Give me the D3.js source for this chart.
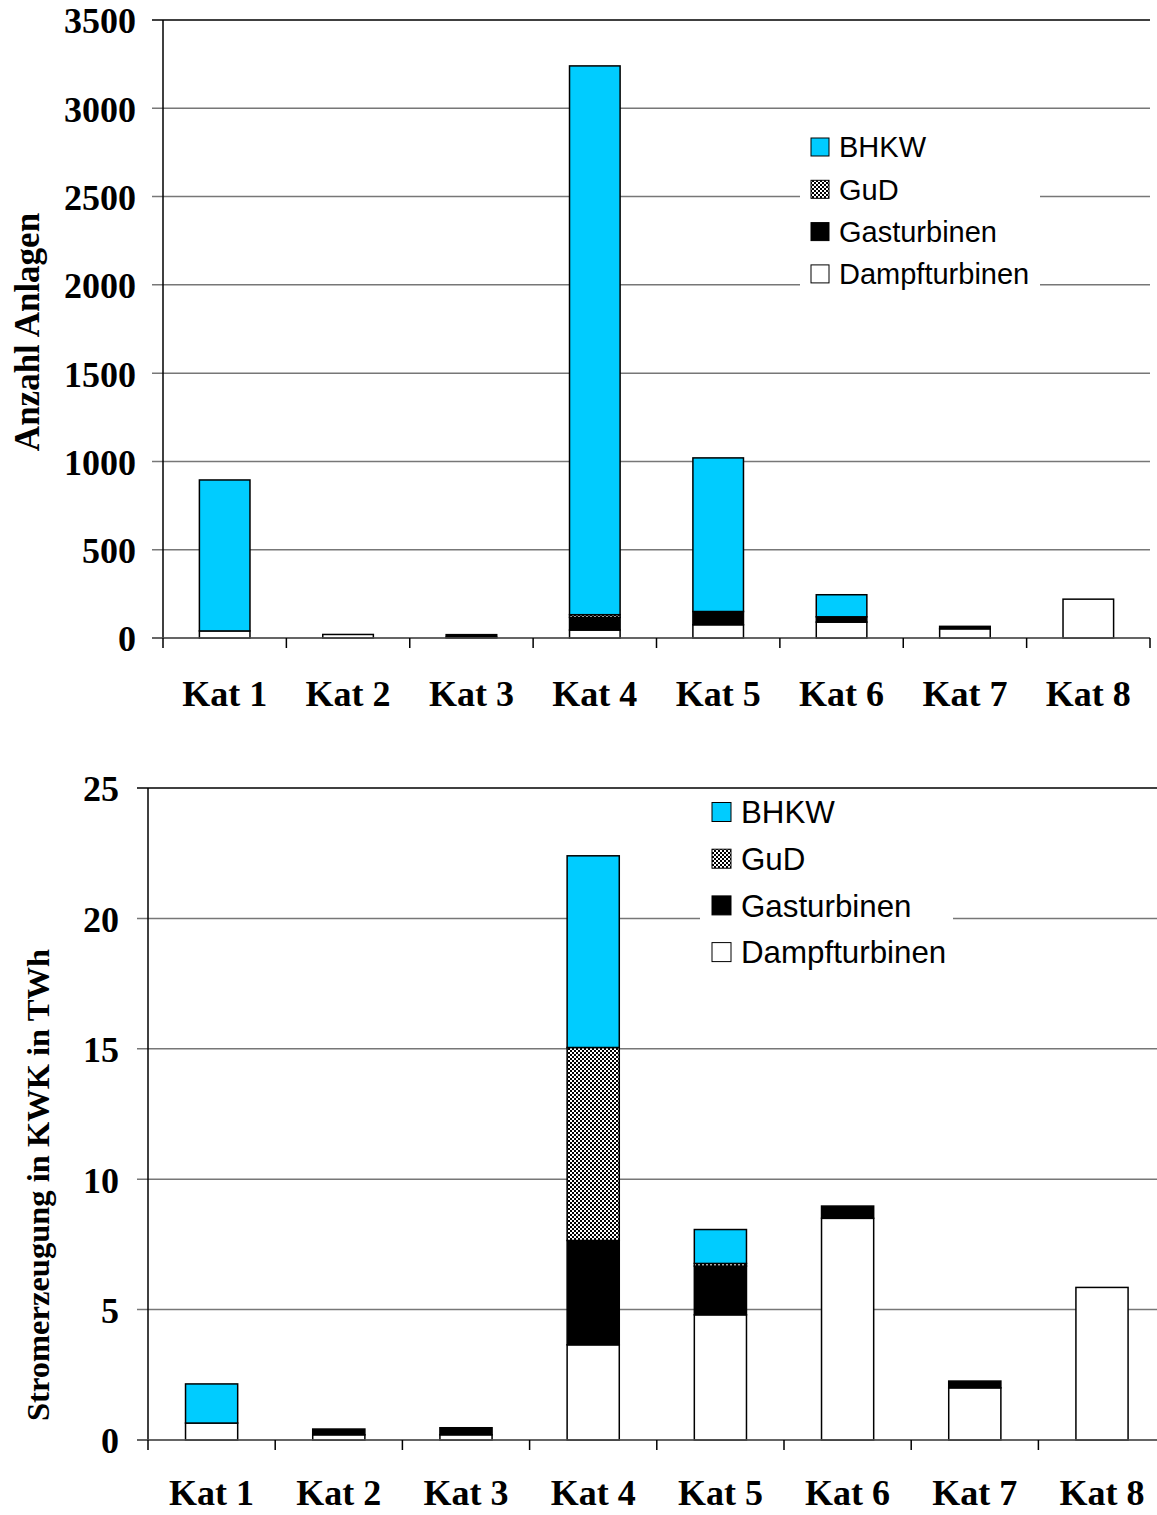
<!DOCTYPE html>
<html><head><meta charset="utf-8">
<script src="https://cdn.jsdelivr.net/npm/d3@7"></script>
<style>body{margin:0;background:#fff}svg{display:block}</style>
</head><body>
<script>
// ---- data ----
const categories = ["Kat 1","Kat 2","Kat 3","Kat 4","Kat 5","Kat 6","Kat 7","Kat 8"];
const seriesKeys = ["Dampfturbinen","Gasturbinen","GuD","BHKW"]; // stack order bottom->top
const legendOrder = ["BHKW","GuD","Gasturbinen","Dampfturbinen"];

const anzahlDampf = [40, 20, 4, 45, 75, 90, 52, 220];
const anzahlGas   = [0, 0, 15, 72, 75, 30, 14, 0];
const anzahlGuD   = [0, 0, 0, 15, 0, 0, 0, 0];
const anzahlBHKW  = [855, 0, 0, 3108, 870, 125, 0, 0];
const anzahlTicks = [0,500,1000,1500,2000,2500,3000,3500];

const stromDampf = [0.65, 0.2, 0.2, 3.65, 4.8, 8.5, 2.0, 5.85];
const stromGas   = [0, 0.22, 0.27, 4.0, 1.87, 0.47, 0.26, 0];
const stromGuD   = [0, 0, 0, 7.4, 0.1, 0, 0, 0];
const stromBHKW  = [1.5, 0, 0, 7.35, 1.3, 0, 0, 0];
const stromTicks = [0,5,10,15,20,25];

function rows(d, g, gu, b){
  return categories.map((c,i)=>({cat:c, Dampfturbinen:d[i], Gasturbinen:g[i], GuD:gu[i], BHKW:b[i]}));
}

const W = 1157, H = 1515;
const svg = d3.select("body").append("svg").attr("width",W).attr("height",H);
const defs = svg.append("defs");
const pat = defs.append("pattern").attr("id","checker").attr("patternUnits","userSpaceOnUse")
  .attr("width",4).attr("height",4);
pat.append("rect").attr("width",4).attr("height",4).attr("fill","#fff");
pat.append("rect").attr("width",2).attr("height",2).attr("fill","#000");
pat.append("rect").attr("x",2).attr("y",2).attr("width",2).attr("height",2).attr("fill","#000");

const fills = {BHKW:"#00CCFF", GuD:"url(#checker)", Gasturbinen:"#000", Dampfturbinen:"#fff"};
const serif = "'Liberation Serif','Times New Roman',serif";
const sans = "'Liberation Sans',Arial,sans-serif";

function chart(cfg){
  const g = svg.append("g");
  const x = d3.scaleBand().domain(categories).range([cfg.left, cfg.right]).padding(0);
  const y = d3.scaleLinear().domain([0, cfg.max]).range([cfg.bottom, cfg.top]);
  // gridlines
  g.selectAll(".grid").data(cfg.ticks).join("line")
    .attr("x1", cfg.left-11).attr("x2", cfg.right)
    .attr("y1", d=>y(d)).attr("y2", d=>y(d))
    .attr("stroke", d=> d===cfg.max ? "#000" : "#777").attr("stroke-width",1.5);
  // legend background (covers gridlines)
  const lg = g.append("g");
  lg.append("rect").attr("x",cfg.legend.x0).attr("y",cfg.legend.y0)
    .attr("width",cfg.legend.x1-cfg.legend.x0).attr("height",cfg.legend.y1-cfg.legend.y0).attr("fill","#fff");
  legendOrder.forEach((k,i)=>{
    const cy = cfg.legend.first + i*cfg.legend.step;
    lg.append("rect").attr("x",cfg.legend.sx).attr("y",cy-cfg.legend.ss/2)
      .attr("width",cfg.legend.ss).attr("height",cfg.legend.ss)
      .attr("fill",fills[k]).attr("stroke","#000").attr("stroke-width",1);
    lg.append("text").attr("x",cfg.legend.sx+cfg.legend.ss+10).attr("y",cy)
      .attr("dy","0.36em").attr("font-family",sans).attr("font-size",cfg.legend.fs)
      .text(k);
  });
  // bars
  const stack = d3.stack().keys(seriesKeys)(cfg.data);
  const bw = x.bandwidth()*0.41;
  stack.forEach(s=>{
    g.selectAll(null).data(s.filter(d=>d[1]-d[0]>0)).join("rect")
      .attr("x", d=>x(d.data.cat)+x.bandwidth()/2-bw/2)
      .attr("width", bw)
      .attr("y", d=>y(d[1]))
      .attr("height", d=>y(d[0])-y(d[1]))
      .attr("fill", fills[s.key])
      .attr("stroke","#000").attr("stroke-width",1.5);
  });
  // y axis line
  g.append("line").attr("x1",cfg.left).attr("x2",cfg.left).attr("y1",cfg.top).attr("y2",cfg.bottom)
    .attr("stroke","#000").attr("stroke-width",1.5);
  // x axis line
  g.append("line").attr("x1",cfg.left-11).attr("x2",cfg.right).attr("y1",cfg.bottom).attr("y2",cfg.bottom)
    .attr("stroke","#555").attr("stroke-width",1.5);
  // category boundary ticks
  const bounds = categories.map(c=>x(c)).concat([cfg.right]);
  g.selectAll(null).data(bounds).join("line")
    .attr("x1",d=>d).attr("x2",d=>d).attr("y1",cfg.bottom).attr("y2",cfg.bottom+10)
    .attr("stroke","#000").attr("stroke-width",1.5);
  // y tick labels via axis
  const ya = d3.axisLeft(y).tickValues(cfg.ticks).tickSize(0).tickPadding(0).tickFormat(d3.format("d"));
  const yg = g.append("g").attr("transform",`translate(${cfg.yLabelX},0)`).call(ya);
  yg.select(".domain").remove();
  yg.selectAll("text").attr("font-family",serif).attr("font-weight","bold")
    .attr("font-size",cfg.tickFs).attr("fill","#000").attr("dy","0.36em");
  // x labels via axis
  const xa = d3.axisBottom(x).tickSize(0).tickPadding(0);
  const xg = g.append("g").attr("transform",`translate(0,${cfg.xLabelY})`).call(xa);
  xg.select(".domain").remove();
  xg.selectAll("text").attr("font-family",serif).attr("font-weight","bold")
    .attr("font-size",cfg.catFs).attr("fill","#000").attr("dy","0.36em");
  // title
  g.append("text").attr("transform",`translate(${cfg.titleX},${cfg.titleY}) rotate(-90)`)
    .attr("text-anchor","middle").attr("dy","0.36em")
    .attr("font-family",serif).attr("font-weight","bold").attr("font-size",cfg.titleFs)
    .text(cfg.title);
}

chart({
  data: rows(anzahlDampf, anzahlGas, anzahlGuD, anzahlBHKW),
  left:163, right:1150, top:20, bottom:638, max:3500, ticks:anzahlTicks,
  yLabelX:136, xLabelY:693, tickFs:36, catFs:36,
  title:"Anzahl Anlagen", titleX:26, titleY:332, titleFs:35,
  legend:{x0:800,x1:1040,y0:125,y1:292,sx:811,ss:18,first:147,step:42.3,fs:29}
});
chart({
  data: rows(stromDampf, stromGas, stromGuD, stromBHKW),
  left:148, right:1165.6, top:788, bottom:1440, max:25, ticks:stromTicks,
  yLabelX:119, xLabelY:1492, tickFs:36, catFs:36,
  title:"Stromerzeugung in KWK in TWh", titleX:37, titleY:1185, titleFs:32.5,
  legend:{x0:700,x1:953,y0:791,y1:975,sx:712,ss:19,first:812,step:46.7,fs:31.3}
});
</script>
</body></html>
